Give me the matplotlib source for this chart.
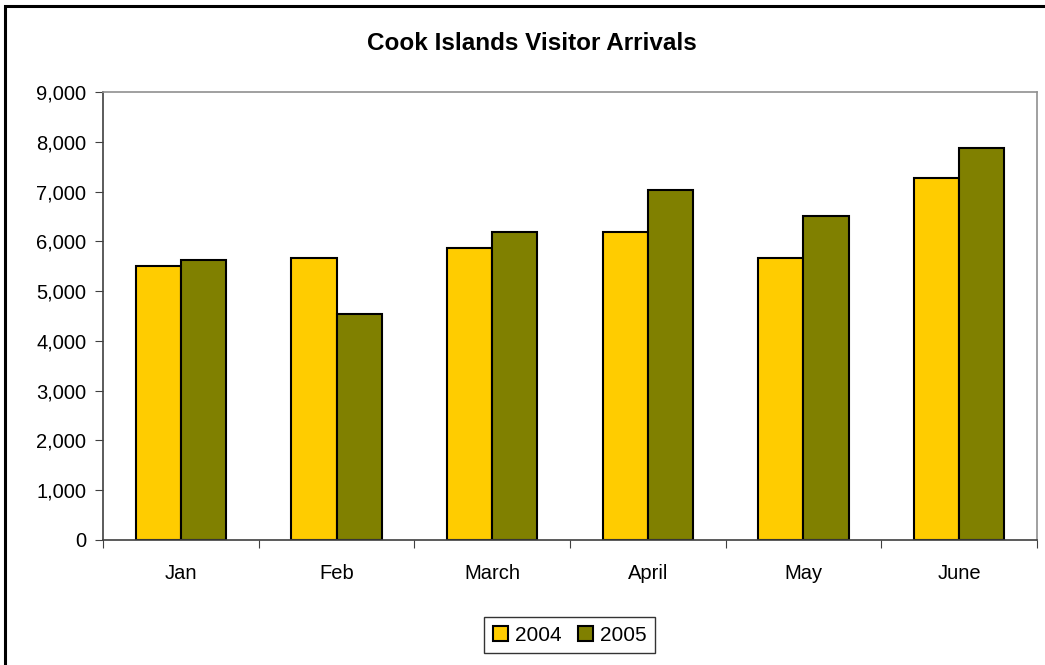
import numpy as np
import matplotlib.pyplot as plt
from matplotlib.patches import Rectangle
from matplotlib.ticker import FuncFormatter

plt.rcParams['font.family'] = ['Liberation Sans', 'DejaVu Sans']

#> Data
months = ['Jan', 'Feb', 'March', 'April', 'May', 'June']
arrivals_2004 = [5500, 5670, 5870, 6190, 5665, 7265]
arrivals_2005 = [5625, 4540, 6190, 7030, 6510, 7875]

fig = plt.figure(figsize=(10.45, 6.65), dpi=100)
ax = fig.add_axes([0.0986, 0.188, 0.8937, 0.6737])

x = np.arange(len(months))
w = 0.29
ax.bar(x - w/2, arrivals_2004, w, color='#FFCC00', edgecolor='black', linewidth=1.5, label='2004')
ax.bar(x + w/2, arrivals_2005, w, color='#808000', edgecolor='black', linewidth=1.5, label='2005')

ax.set_xlim(-0.5, len(months) - 0.5)
ax.set_ylim(0, 9000)
ax.set_yticks(np.arange(0, 9001, 1000))
ax.yaxis.set_major_formatter(FuncFormatter(lambda v, p: f'{int(v):,}'))

#> category labels between boundary ticks
ax.set_xticks(np.arange(-0.5, len(months)), minor=False)
ax.set_xticklabels([])
ax.set_xticks(x, minor=True)
ax.set_xticklabels(months, minor=True)
ax.tick_params(axis='x', which='major', direction='out', length=6, color='#404040')
ax.tick_params(axis='x', which='minor', length=0, pad=17, labelsize=14.5)
ax.tick_params(axis='y', direction='out', length=6, color='#404040', labelsize=14.5, pad=6)

for s in ['left', 'bottom']:
    ax.spines[s].set_color('#404040')
    ax.spines[s].set_linewidth(1.2)
for s in ['top', 'right']:
    ax.spines[s].set_color('#909090')
    ax.spines[s].set_linewidth(1.2)

fig.text(0.509, 0.935, 'Cook Islands Visitor Arrivals', ha='center', va='center',
         fontsize=17.5, fontweight='bold')

leg = fig.legend(loc='center', bbox_to_anchor=(0.545, 0.045), ncol=2, fontsize=15,
                 frameon=True, fancybox=False, edgecolor='black', handlelength=0.75,
                 handleheight=0.75, handletextpad=0.3, columnspacing=0.8, borderpad=0.4)
leg.get_frame().set_linewidth(1.0)

#> outer chart border
fig.patches.append(Rectangle((0.005, -0.1), 1.2, 1.091, transform=fig.transFigure,
                             fill=False, edgecolor='black', linewidth=2.2))

fig.savefig('out.png', dpi=100)
